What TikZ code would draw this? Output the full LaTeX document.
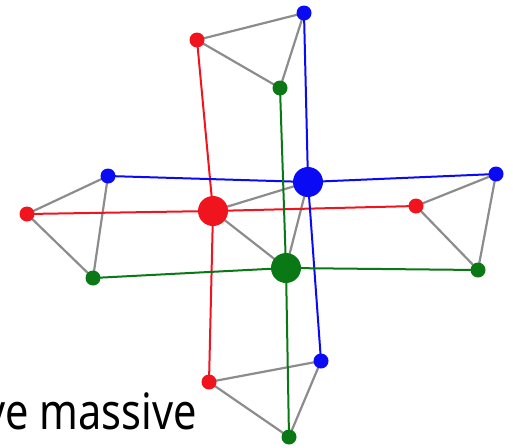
\documentclass[tikz,border=0pt]{standalone}
\usepackage{fontspec}
\setmainfont{Noto Sans}
\definecolor{cred}{RGB}{240,20,30}
\definecolor{cblue}{RGB}{10,10,245}
\definecolor{cgreen}{RGB}{10,120,20}
\definecolor{cgray}{RGB}{140,140,140}
\begin{document}
\begin{tikzpicture}[x=1pt,y=-1pt,
  small/.style={circle,inner sep=0pt,minimum size=15pt},
  big/.style={circle,inner sep=0pt,minimum size=30pt},
  rnode/.style={fill=cred},
  bnode/.style={fill=cblue},
  gnode/.style={fill=cgreen},
  link/.style={cgray,line width=2.2pt},
  rline/.style={cred,line width=2pt},
  bline/.style={cblue,line width=2pt},
  gline/.style={cgreen,line width=2pt}]
\useasboundingbox (0,0) rectangle (513,447);
\clip (0,0) rectangle (513,447);
% vertex positions
\coordinate (tr) at (197,40);
\coordinate (tb) at (304,13);
\coordinate (tg) at (280,88);
\coordinate (lr) at (27,214);
\coordinate (lb) at (108,176);
\coordinate (lg) at (93,278);
\coordinate (rr) at (416,206);
\coordinate (rb) at (496,174);
\coordinate (rg) at (478,270);
\coordinate (br) at (209,382);
\coordinate (bb) at (321,361);
\coordinate (bg) at (289,437);
\coordinate (cr) at (213,211);
\coordinate (cb) at (308,182);
\coordinate (cg) at (286,268);
% grey triangles
\foreach \a/\b/\c in {tr/tb/tg, lr/lb/lg, rr/rb/rg, br/bb/bg, cr/cb/cg}{
  \draw[link] (\a) -- (\b) -- (\c) -- cycle;
}
% coloured crossings
\draw[rline] (tr) -- (cr) -- (br);
\draw[rline] (lr) -- (cr) -- (rr);
\draw[bline] (tb) -- (cb) -- (bb);
\draw[bline] (lb) -- (cb) -- (rb);
\draw[gline] (tg) -- (cg) -- (bg);
\draw[gline] (lg) -- (cg) -- (rg);
% vertices on top of the edges
\foreach \n/\s/\c in {tr/small/rnode, tb/small/bnode, tg/small/gnode,
  lr/small/rnode, lb/small/bnode, lg/small/gnode,
  rr/small/rnode, rb/small/bnode, rg/small/gnode,
  br/small/rnode, bb/small/bnode, bg/small/gnode,
  cr/big/rnode, cb/big/bnode, cg/big/gnode}{
  \node[\s,\c] (v\n) at (\n) {};
}
% caption fragment
\node[anchor=base east,inner sep=0pt,font=\fontsize{50}{56}\selectfont] (cap) at (197,429) {\scalebox{0.83}[1]{ve massive}};
\end{tikzpicture}
\end{document}
